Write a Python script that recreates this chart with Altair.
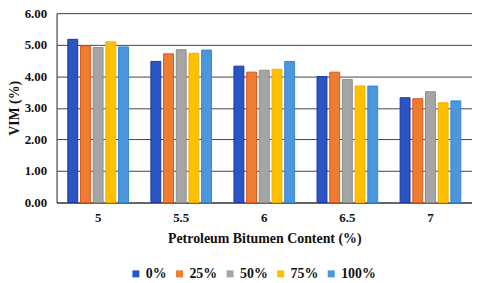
import altair as alt
import pandas as pd

contents = ["5", "5.5", "6", "6.5", "7"]
series = ["0%", "25%", "50%", "75%", "100%"]
v0 = [5.17, 4.47, 4.32, 3.99, 3.32]
v25 = [4.96, 4.71, 4.13, 4.13, 3.29]
v50 = [4.91, 4.84, 4.19, 3.90, 3.51]
v75 = [5.09, 4.73, 4.22, 3.69, 3.16]
v100 = [4.93, 4.83, 4.47, 3.69, 3.22]
colors = ["#2A55C2", "#ED7D31", "#A5A5A5", "#FFC000", "#4C97DB"]
strokes = ["#1838A8", "#E0561A", "#8E8E8E", "#F2B000", "#3A86CF"]

rows = []
for s, vals in zip(series, [v0, v25, v50, v75, v100]):
    for c, v in zip(contents, vals):
        rows.append({"content": c, "series": s, "vim": v})
df = pd.DataFrame(rows)

font = "Times New Roman"

chart = alt.Chart(df).mark_bar(strokeWidth=1).encode(
    x=alt.X("content:N", sort=contents,
            scale=alt.Scale(paddingInner=0.27, paddingOuter=0.135),
            axis=alt.Axis(title="Petroleum Bitumen Content (%)", labelAngle=0,
                          ticks=False, labelPadding=9, titlePadding=7,
                          domainColor="#333333", labelFont=font, titleFont=font,
                          labelFontSize=13, titleFontSize=14,
                          labelFontWeight="bold", titleFontWeight="bold",
                          labelColor="#111111", titleColor="#111111")),
    xOffset=alt.XOffset("series:N", sort=series,
                        scale=alt.Scale(paddingInner=0.22)),
    y=alt.Y("vim:Q", scale=alt.Scale(domain=[0, 6]),
            axis=alt.Axis(title="VIM (%)", values=[0, 1, 2, 3, 4, 5, 6], format=".2f",
                          ticks=False, labelPadding=10, titlePadding=3,
                          gridColor="#444444", domainColor="#333333",
                          labelFont=font, titleFont=font, labelFontSize=13,
                          titleFontSize=14, labelFontWeight="bold",
                          titleFontWeight="bold", labelColor="#111111",
                          titleColor="#111111")),
    color=alt.Color("series:N", sort=series,
                    scale=alt.Scale(domain=series, range=colors),
                    legend=alt.Legend(title=None, orient="none", direction="horizontal",
                                      legendX=73, legendY=256, symbolType="square",
                                      symbolSize=50, labelFont=font, labelFontSize=14,
                                      labelFontWeight="bold", labelColor="#111111",
                                      columnPadding=6, labelOffset=3,
                                      symbolStrokeWidth=0)),
    stroke=alt.Stroke("series:N", sort=series,
                      scale=alt.Scale(domain=series, range=strokes), legend=None),
).properties(
    width=419, height=191,
    autosize=alt.AutoSizeParams(type="none"),
    padding={"left": 49, "top": 4, "right": 0, "bottom": 80},
).configure_view(stroke="#999999").configure(background="white")

chart.save("out.html", embed_options={"renderer": "svg", "actions": False})
